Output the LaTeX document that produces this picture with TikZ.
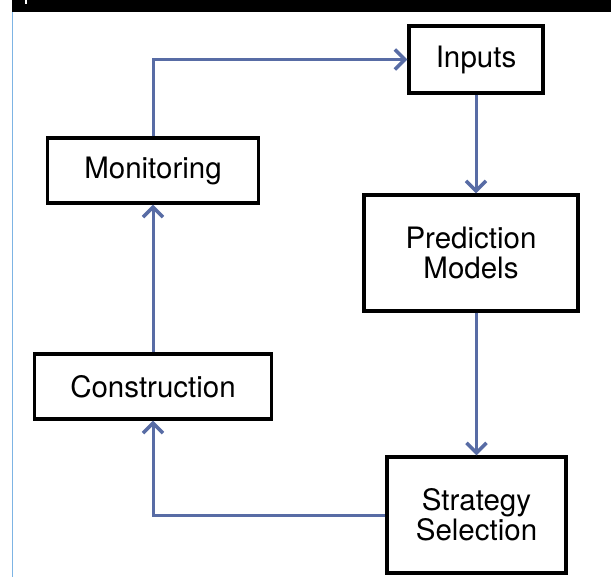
\documentclass[tikz,border=0pt]{standalone}
\usepackage{fontspec}
\setmainfont{TeX Gyre Heros}
\usetikzlibrary{arrows.meta}
\definecolor{flowblue}{RGB}{88,108,165}
\definecolor{edgeblue}{RGB}{125,180,228}
\tikzset{
  stage/.style={draw=black, line width=3.4pt, fill=white, align=center,
    font=\fontsize{29.5}{30}\selectfont, inner sep=0pt},
  flow/.style={draw=flowblue, line width=3pt,
    -{Straight Barb[length=10pt, width=20pt, line width=3.4pt]}}
}
\begin{document}
\begin{tikzpicture}[x=1pt, y=-1pt]
  \useasboundingbox (0,0) rectangle (611,577);
  \fill[white] (0,0) rectangle (611,577);
  % header bar and left rule
  \fill[black] (11.5,0) rectangle (611,12.5);
  \fill[white] (25,0) rectangle (27,4);
  \draw[edgeblue, line width=1pt] (12,12.5) -- (12,577);

  % stages of the cycle
  \node[stage, minimum width=134pt, minimum height=67pt] (inp) at (476,59.5) {Inputs};
  \node[stage, minimum width=211pt, minimum height=65pt] (mon) at (153,170.5) {Monitoring};
  \node[stage, minimum width=214pt, minimum height=116pt] (pred) at (471,253) {Prediction\\Models};
  \node[stage, minimum width=237pt, minimum height=65pt] (con) at (153,386.5) {Construction};
  \node[stage, minimum width=179pt, minimum height=116pt] (strat) at (476.5,515) {Strategy\\Selection};

  % connectors
  \draw[flow] (mon.north) |- (inp.west);
  \draw[flow] (inp.south) -- (inp.south |- pred.north);
  \draw[flow] (strat.north |- pred.south) -- (strat.north);
  \draw[flow] (strat.west) -| (con.south);
  \draw[flow] (con.north) -- (mon.south);
\end{tikzpicture}
\end{document}
